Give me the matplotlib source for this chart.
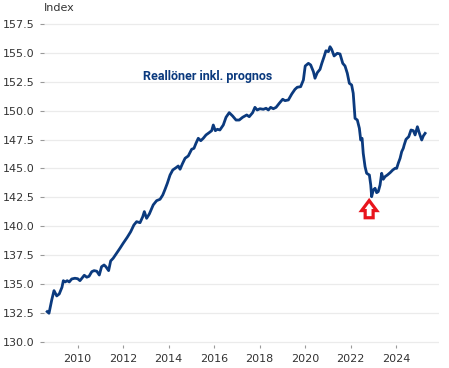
import numpy as np
import matplotlib.pyplot as plt
from matplotlib.patches import FancyArrow, Rectangle

years = [
    2008.66, 2008.74, 2008.86, 2008.96, 2009.08, 2009.19, 2009.31, 2009.37, 2009.45, 2009.54,
    2009.63, 2009.74, 2009.88, 2010.00, 2010.10, 2010.22, 2010.29, 2010.40, 2010.50, 2010.62,
    2010.72, 2010.84, 2010.95, 2011.05, 2011.16, 2011.24, 2011.36, 2011.45, 2011.56, 2011.71,
    2011.86, 2012.00, 2012.18, 2012.33, 2012.47, 2012.59, 2012.74, 2012.86, 2012.93, 2013.03,
    2013.15, 2013.32, 2013.47, 2013.62, 2013.74, 2013.84, 2013.94, 2014.06, 2014.18, 2014.32,
    2014.42, 2014.50, 2014.60, 2014.72, 2014.86, 2015.01, 2015.11, 2015.20, 2015.30, 2015.41,
    2015.52, 2015.64, 2015.78, 2015.89, 2015.96, 2016.05, 2016.14, 2016.25, 2016.40, 2016.52,
    2016.66, 2016.81, 2016.96, 2017.10, 2017.25, 2017.43, 2017.54, 2017.69, 2017.79, 2017.89,
    2018.01, 2018.16, 2018.28, 2018.38, 2018.48, 2018.60, 2018.72, 2018.86, 2019.01, 2019.11,
    2019.26, 2019.41, 2019.55, 2019.65, 2019.80, 2019.92, 2020.00, 2020.14, 2020.24, 2020.36,
    2020.43, 2020.53, 2020.65, 2020.73, 2020.83, 2020.91, 2021.02, 2021.09, 2021.16, 2021.27,
    2021.41, 2021.53, 2021.65, 2021.75, 2021.85, 2021.94, 2022.04, 2022.11, 2022.19, 2022.29,
    2022.38, 2022.44, 2022.50, 2022.55, 2022.63, 2022.70, 2022.82, 2022.88, 2022.92, 2022.99,
    2023.07, 2023.14, 2023.21, 2023.29, 2023.36, 2023.43, 2023.51, 2023.61, 2023.73, 2023.85,
    2023.95, 2024.02, 2024.09, 2024.17, 2024.24, 2024.31, 2024.35, 2024.43, 2024.55, 2024.65,
    2024.75, 2024.83, 2024.93, 2025.02, 2025.12, 2025.19, 2025.27,
]
index = [
    132.60, 132.46, 133.61, 134.42, 133.96, 134.13, 134.71, 135.28, 135.17, 135.28,
    135.17, 135.43, 135.49, 135.45, 135.28, 135.58, 135.75, 135.58, 135.66, 136.06,
    136.15, 136.10, 135.77, 136.49, 136.64, 136.49, 136.15, 136.99, 137.22, 137.65,
    138.09, 138.52, 139.04, 139.52, 140.10, 140.39, 140.30, 140.82, 141.26, 140.68,
    141.06, 141.84, 142.21, 142.33, 142.70, 143.19, 143.71, 144.43, 144.87, 145.06,
    145.21, 144.93, 145.39, 145.88, 146.08, 146.66, 146.74, 147.18, 147.61, 147.40,
    147.61, 147.90, 148.10, 148.27, 148.76, 148.27, 148.39, 148.33, 148.76, 149.43,
    149.83, 149.54, 149.19, 149.19, 149.43, 149.63, 149.48, 149.83, 150.29, 150.06,
    150.17, 150.12, 150.21, 150.06, 150.29, 150.17, 150.29, 150.64, 150.99, 150.87,
    150.93, 151.45, 151.85, 152.03, 152.08, 152.66, 153.87, 154.10, 153.96, 153.38,
    152.81, 153.29, 153.58, 154.10, 154.68, 155.19, 155.11, 155.54, 155.32, 154.74,
    154.97, 154.91, 154.10, 153.87, 153.24, 152.37, 152.23, 151.51, 149.34, 149.19,
    148.48, 147.46, 147.61, 146.31, 145.15, 144.58, 144.43, 143.57, 142.55, 143.13,
    143.28, 142.90, 142.99, 143.57, 144.58, 144.06, 144.29, 144.43, 144.63, 144.87,
    145.01, 145.01, 145.45, 145.88, 146.45, 146.74, 147.03, 147.52, 147.75, 148.33,
    148.27, 147.90, 148.61, 148.04, 147.46, 147.81, 148.04,
]

y_ticks = [130.0, 132.5, 135.0, 137.5, 140.0, 142.5, 145.0, 147.5, 150.0, 152.5, 155.0, 157.5]
x_ticks = [2010, 2012, 2014, 2016, 2018, 2020, 2022, 2024]
series_label = "Reallöner inkl. prognos"
arrow_year, arrow_base, arrow_tip = 2022.81, 140.73, 142.22

navy = "#0b3a7e"

fig = plt.figure(figsize=(4.49, 3.68), dpi=100)
ax = fig.add_axes([44 / 449, 23 / 368, 395 / 449, 323 / 368])

ax.plot(years, index, color=navy, lw=2.0, solid_joinstyle="round", zorder=3)

ax.set_xlim(2008.52, 2025.88)
ax.set_ylim(129.71, 157.68)
ax.set_yticks(y_ticks)
ax.set_yticklabels([f"{v:.1f}" for v in y_ticks])
ax.set_xticks(x_ticks)

ax.grid(axis="y", color="#ebebeb", lw=0.9, zorder=0)
for s in ax.spines.values():
    s.set_visible(False)
ax.tick_params(axis="y", length=3, width=0.8, color="#999999", pad=4,
               labelsize=8, labelcolor="#333333")
ax.tick_params(axis="x", length=2.5, width=0.8, color="#999999", pad=4,
               labelsize=8, labelcolor="#333333")

# white patch over the gridline below the arrow
ax.add_patch(Rectangle((2022.80, 139.67), 0.93, 0.6, facecolor="white",
                       edgecolor="none", zorder=1))

# hollow red arrow pointing at the trough
ax.add_patch(FancyArrow(arrow_year, arrow_base, 0, arrow_tip - arrow_base,
                        width=0.35, head_width=0.66, head_length=0.87,
                        length_includes_head=True, facecolor="white",
                        edgecolor="#e8141c", lw=2.3, joinstyle="miter", zorder=4))

ax.text(2015.69, 152.94, series_label, color=navy, fontsize=9,
        fontweight="bold", family="Roboto", ha="center", va="center")
fig.text(44 / 449, 1 - 8 / 368, "Index", fontsize=8, color="#333333",
         ha="left", va="center")

fig.savefig("out.png", dpi=100, facecolor="white")
